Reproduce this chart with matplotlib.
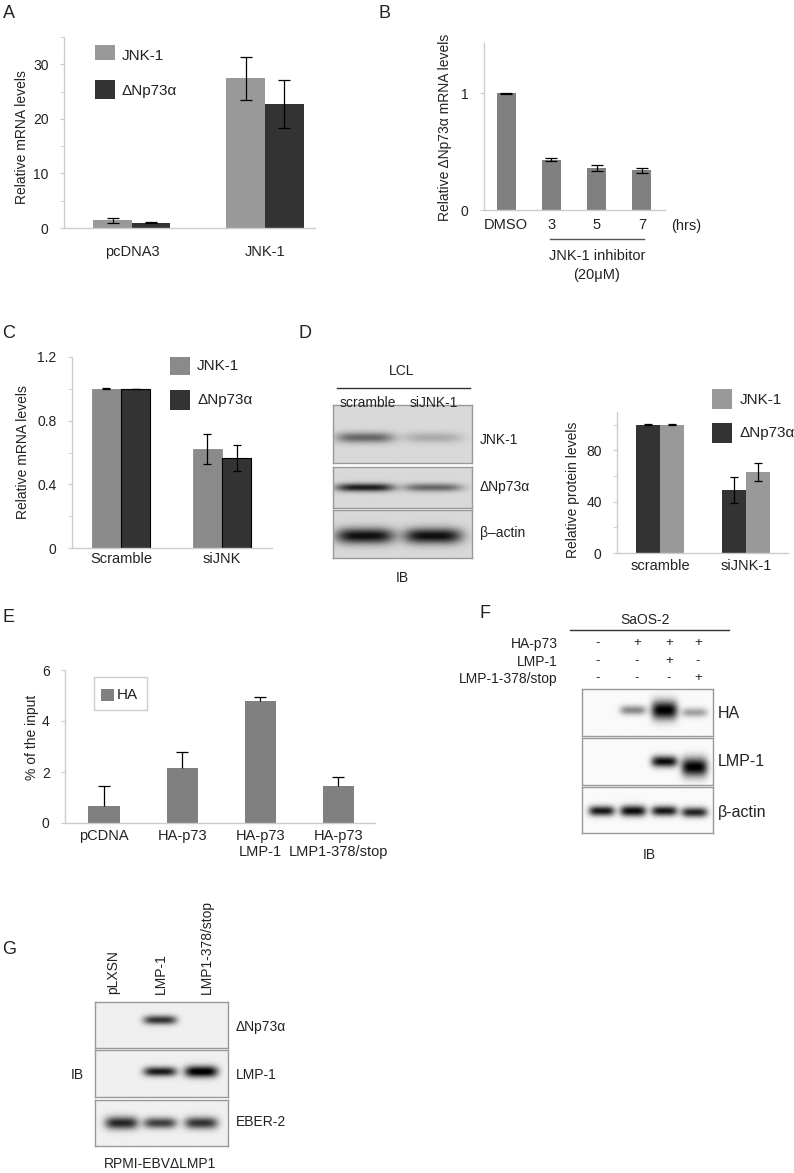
import numpy as np
import matplotlib
matplotlib.use("Agg")
import matplotlib.pyplot as plt
from matplotlib.patches import Rectangle

plt.rcParams['font.family'] = ['Liberation Sans', 'DejaVu Sans']

W, H = 794, 1173
fig = plt.figure(figsize=(W / 100, H / 100), dpi=100)

# ---------------- data ----------------
# A
a_groups = ["pcDNA3", "JNK-1"]
a_jnk = [1.4, 27.4]
a_jnk_err = [0.4, 3.9]
a_dnp = [1.0, 22.8]
a_dnp_err = [0.15, 4.4]
# B
b_cats = ["DMSO", "3", "5", "7"]
b_vals = [1.0, 0.43, 0.36, 0.34]
b_err = [0.003, 0.012, 0.022, 0.022]
# C
c_groups = ["Scramble", "siJNK"]
c_jnk = [1.0, 0.62]
c_jnk_err = [0.003, 0.095]
c_dnp = [1.0, 0.565]
c_dnp_err = [0.0, 0.08]
# D (chart)
d_groups = ["scramble", "siJNK-1"]
d_dnp = [100, 49]
d_dnp_err = [0.3, 10]
d_jnk = [100, 63]
d_jnk_err = [0.3, 7]
# E
e_cats = ["pCDNA", "HA-p73", "HA-p73\nLMP-1", "HA-p73\nLMP1-378/stop"]
e_vals = [0.65, 2.15, 4.8, 1.45]
e_err = [0.8, 0.65, 0.13, 0.35]
# F signs
f_rows = ["HA-p73", "LMP-1", "LMP-1-378/stop"]
f_signs = [["-", "+", "+", "+"],
           ["-", "-", "+", "-"],
           ["-", "-", "-", "+"]]
# blot band intensities (0 = none, 1 = saturated)
d_blot_rows = ["JNK-1", "\u0394Np73\u03b1", "\u03b2\u2013actin"]
d_blot_int = [[0.45, 0.18], [0.75, 0.45], [0.8, 0.8]]
f_blot_rows = ["HA", "LMP-1", "\u03b2-actin"]
f_blot_int = [[0.0, 0.45, 1.0, 0.35], [0.0, 0.0, 0.95, 1.0], [0.9, 0.95, 0.9, 0.85]]
g_lanes = ["pLXSN", "LMP-1", "LMP1-378/stop"]
g_blot_rows = ["\u0394Np73\u03b1", "LMP-1", "EBER-2"]
g_blot_int = [[0.0, 0.75, 0.0], [0.0, 0.85, 1.0], [0.8, 0.7, 0.75]]

LIGHT = "#999999"
DARK = "#333333"
MID = "#808080"
AXC = "#cccccc"
TXT = "#222222"


def axpx(x0, y0, x1, y1):
    return fig.add_axes([x0 / W, 1 - y1 / H, (x1 - x0) / W, (y1 - y0) / H])


def T(x, y, s, **kw):
    kw.setdefault("ha", "center")
    kw.setdefault("va", "center")
    kw.setdefault("fontsize", 10)
    kw.setdefault("color", TXT)
    fig.text(x / W, 1 - y / H, s, **kw)


def legpatch(x0, y0, x1, y1, color, label, tx, ty, fs=11, ec="none"):
    fig.patches.append(Rectangle((x0 / W, 1 - y1 / H), (x1 - x0) / W, (y1 - y0) / H,
                                 transform=fig.transFigure, facecolor=color, edgecolor=ec, lw=0.8))
    T(tx, ty, label, ha="left", fontsize=fs)


def style(ax, ylim, major, minor, fmt=None, fs=10):
    ax.set_ylim(*ylim)
    for s in ["top", "right"]:
        ax.spines[s].set_visible(False)
    for s in ["left", "bottom"]:
        ax.spines[s].set_color(AXC)
        ax.spines[s].set_linewidth(1)
    ax.set_yticks(major)
    if fmt:
        ax.set_yticklabels([fmt(v) for v in major])
    ax.set_yticks(minor, minor=True)
    ax.tick_params(axis="y", which="both", length=3, color=AXC, labelsize=fs, labelcolor=TXT, pad=8)
    ax.tick_params(axis="x", length=0, labelsize=10.5, labelcolor=TXT, pad=6)
    ax.set_facecolor("none")


def ylab(ax, text, xa, ya, fs=10):
    ax.set_ylabel(text, fontsize=fs, color=TXT)
    ax.yaxis.set_label_coords(xa, ya)


ekw = dict(fmt="none", ecolor="black", elinewidth=0.9, capthick=0.9)

# ---------------- A ----------------
T(9, 14, "A", fontsize=13)
ax = axpx(64, 37, 315, 228)
x = np.arange(len(a_groups))
w = 0.29
ax.bar(x - w / 2, a_jnk, w, color=LIGHT)
ax.bar(x + w / 2, a_dnp, w, color=DARK)
ax.errorbar(x - w / 2, a_jnk, yerr=a_jnk_err, capsize=4, **ekw)
ax.errorbar(x + w / 2, a_dnp, yerr=a_dnp_err, capsize=4, **ekw)
ax.set_xlim(-0.51, 1.376)
style(ax, (0, 35), [0, 10, 20, 30], [5, 15, 25, 35])
ax.set_xticks(x)
ax.set_xticklabels(a_groups)
ax.tick_params(axis="x", pad=12)
ylab(ax, "Relative mRNA levels", -0.139, 0.476)
legpatch(95, 45, 115, 60, LIGHT, "JNK-1", 122, 56)
legpatch(95, 80, 115, 99, DARK, "\u0394Np73\u03b1", 122, 91)

# ---------------- B ----------------
T(384, 14, "B", fontsize=13)
ax = axpx(484, 43, 665, 210)
x = np.arange(len(b_cats))
ax.bar(x, b_vals, 0.42, color=MID)
ax.errorbar(x, b_vals, yerr=b_err, capsize=4, **ekw)
ax.set_xlim(-0.49, 3.51)
style(ax, (0, 1.43), [0, 1], [])
ax.set_xticks(x)
ax.set_xticklabels(b_cats)
ylab(ax, "Relative \u0394Np73\u03b1 mRNA levels", -0.177, 0.497)
T(686, 226, "(hrs)", fontsize=10.5)
fig.add_artist(plt.Line2D([550 / W, 644 / W], [1 - 239 / H, 1 - 239 / H], color="#555555", lw=1))
T(597, 256, "JNK-1 inhibitor", fontsize=10.5)
T(597, 275, "(20\u03bcM)", fontsize=10.5)

# ---------------- C ----------------
T(9, 333, "C", fontsize=13)
ax = axpx(72, 357, 272, 548)
x = np.arange(len(c_groups))
w = 0.29
ax.bar(x - w / 2, c_jnk, w, color="#8a8a8a", edgecolor="#8a8a8a", lw=0.6)
ax.bar(x + w / 2, c_dnp, w, color=DARK, edgecolor="black", lw=0.8)
ax.errorbar(x - w / 2, c_jnk, yerr=c_jnk_err, capsize=3, **ekw)
ax.errorbar(x + w / 2, c_dnp, yerr=c_dnp_err, capsize=3, **ekw)
ax.set_xlim(-0.485, 1.495)
style(ax, (0, 1.2), [0, 0.4, 0.8, 1.2], [0.2, 0.6, 1.0],
      fmt=lambda v: "0" if v == 0 else f"{v:.1f}")
ax.set_xticks(x)
ax.set_xticklabels(c_groups)
ax.tick_params(axis="x", pad=3)
ylab(ax, "Relative mRNA levels", -0.21, 0.50)
legpatch(170, 357, 190, 375, "#8a8a8a", "JNK-1", 197, 366)
legpatch(170, 390, 190, 410, DARK, "\u0394Np73\u03b1", 197, 400)


# ---------------- blot helper ----------------
def blot(rect, lane_x, inten, yc, sy, lane_w, bg, edge="#999999"):
    ax = axpx(*rect)
    nx, ny = 300, 120
    X = np.linspace(0, 1, nx)[None, :]
    Y = np.linspace(0, 1, ny)[:, None]
    img = np.full((ny, nx), bg)
    for i, lx in enumerate(lane_x):
        a = inten[i]
        c = yc[i] if np.ndim(yc) else yc
        s = sy[i] if np.ndim(sy) else sy
        prof_y = np.exp(-((Y - c) / s) ** 2)
        prof_x = np.exp(-np.abs((X - lx) / (lane_w / 2)) ** 4)
        img = img + a * prof_y * prof_x
    img = np.clip(img, 0, 1)
    ax.imshow(1 - img, cmap="gray", vmin=0, vmax=1, extent=(0, 1, 1, 0), aspect="auto",
              interpolation="bilinear")
    ax.set_xlim(0, 1)
    ax.set_ylim(1, 0)
    ax.set_xticks([])
    ax.set_yticks([])
    for s in ax.spines.values():
        s.set_color(edge)
        s.set_linewidth(1)
    return ax


# ---------------- D ----------------
T(305, 333, "D", fontsize=13)
T(402, 371, "LCL", fontsize=10)
fig.add_artist(plt.Line2D([337 / W, 470 / W], [1 - 388 / H, 1 - 388 / H], color="#333333", lw=1))
T(368, 403, "scramble", fontsize=10)
T(434, 403, "siJNK-1", fontsize=10)
d_rects = [(333, 405, 472, 463), (333, 467, 472, 508), (333, 510, 472, 558)]
d_yc = [0.57, 0.5, 0.55]
d_sy = [0.09, 0.1, 0.16]
d_ty = [440, 487, 533]
for r, row in enumerate(d_blot_rows):
    blot(d_rects[r], [0.23, 0.72], d_blot_int[r], d_yc[r], d_sy[r], 0.42, 0.15)
    T(480, d_ty[r], row, ha="left", fontsize=10)
T(402, 578, "IB", fontsize=10)

ax = axpx(617, 412, 788, 553)
x = np.arange(len(d_groups))
w = 0.28
ax.bar(x - w / 2, d_dnp, w, color=DARK)
ax.bar(x + w / 2, d_jnk, w, color=LIGHT)
ax.errorbar(x - w / 2, d_dnp, yerr=d_dnp_err, capsize=3, **ekw)
ax.errorbar(x + w / 2, d_jnk, yerr=d_jnk_err, capsize=3, **ekw)
ax.set_xlim(-0.5, 1.49)
style(ax, (0, 110), [0, 40, 80], [20, 60, 100])
ax.set_xticks(x)
ax.set_xticklabels(d_groups)
ax.tick_params(axis="x", pad=4)
ylab(ax, "Relative protein levels", -0.216, 0.447)
legpatch(712, 389, 732, 409, LIGHT, "JNK-1", 740, 400)
legpatch(712, 423, 732, 443, DARK, "\u0394Np73\u03b1", 740, 433)

# ---------------- E ----------------
T(9, 618, "E", fontsize=13)
ax = axpx(65, 670, 375, 823)
x = np.arange(len(e_cats))
ax.bar(x, e_vals, 0.4, color=MID)
el = ax.errorbar(x, e_vals, yerr=[np.zeros(len(e_err)), e_err], capsize=4, **ekw)
el[1][0].set_visible(False)
ax.set_xlim(-0.5, 3.47)
style(ax, (0, 6), [0, 2, 4, 6], [])
ax.set_xticks(x)
ax.set_xticklabels(e_cats, linespacing=1.25)
ax.tick_params(axis="x", pad=4)
for lab in ax.get_xticklabels():
    lab.set_verticalalignment("top")
ylab(ax, "% of the input", -0.084, 0.56)
fig.patches.append(Rectangle((94 / W, 1 - 710 / H), 53 / W, 33 / H, transform=fig.transFigure,
                             facecolor="white", edgecolor=AXC, lw=1))
legpatch(101, 689, 114, 701, MID, "HA", 117, 695)

# ---------------- F ----------------
T(485, 613, "F", fontsize=13)
T(645, 620, "SaOS-2", fontsize=10)
fig.add_artist(plt.Line2D([570 / W, 729 / W], [1 - 630 / H, 1 - 630 / H], color="#333333", lw=1))
f_cols = [598, 637, 669, 698]
f_rowy = [644, 662, 679]
for r, name in enumerate(f_rows):
    T(558, f_rowy[r], name, ha="right", fontsize=10)
    for c, s in enumerate(f_signs[r]):
        T(f_cols[c], f_rowy[r] - 1, s, fontsize=9.5)
f_rects = [(582, 689, 713, 736), (582, 738, 713, 785), (582, 787, 713, 833)]
f_lanes = [0.15, 0.39, 0.63, 0.86]
f_yc = [[0.45, 0.45, 0.45, 0.5], [0.5, 0.5, 0.5, 0.62], [0.52, 0.52, 0.52, 0.55]]
f_sy = [[0.1, 0.1, 0.2, 0.1], [0.12, 0.12, 0.12, 0.2], [0.11, 0.12, 0.11, 0.11]]
f_ty = [713, 762, 812]
for r, row in enumerate(f_blot_rows):
    blot(f_rects[r], f_lanes, f_blot_int[r], f_yc[r], f_sy[r], 0.2, 0.02)
    T(718, f_ty[r], row, ha="left", fontsize=11.5)
T(649, 855, "IB", fontsize=10)

# ---------------- G ----------------
T(9, 950, "G", fontsize=13)
g_lx = [113, 161, 207]
for i, name in enumerate(g_lanes):
    T(g_lx[i], 994, name, rotation=90, va="bottom", fontsize=10)
g_rects = [(95, 1002, 228, 1048), (95, 1050, 228, 1097), (95, 1100, 228, 1146)]
g_yc = [0.39, 0.47, 0.5]
g_sy = [[0.1, 0.1, 0.1], [0.1, 0.1, 0.12], [0.14, 0.12, 0.13]]
g_ty = [1027, 1075, 1122]
for r, row in enumerate(g_blot_rows):
    blot(g_rects[r], [0.2, 0.49, 0.8], g_blot_int[r], g_yc[r], g_sy[r], 0.25, 0.06)
    T(236, g_ty[r], row, ha="left", fontsize=10)
T(77, 1075, "IB", fontsize=10)
T(160, 1164, "RPMI-EBV\u0394LMP1", fontsize=10)

fig.savefig("out.png", dpi=100, facecolor="white")
